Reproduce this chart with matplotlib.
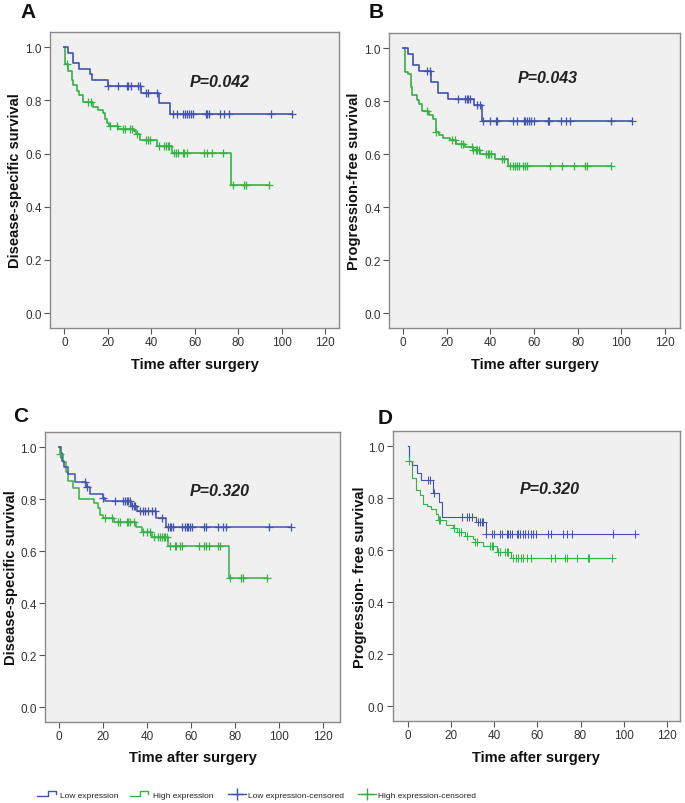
import numpy as np
import matplotlib
matplotlib.use("Agg")
import matplotlib.pyplot as plt
from matplotlib.lines import Line2D
from matplotlib.legend_handler import HandlerBase

plt.rcParams['font.family'] = ['Liberation Sans', 'DejaVu Sans']

BLUE = '#4153AE'
GREEN = '#35B146'

# ---------------- data ----------------
# Panel A: Disease-specific survival
a_low_t = [1.9, 4.1, 6.9, 11.8, 12.9, 20.0, 35.3, 43.6, 48.7]
a_low_s = [0.979, 0.939, 0.919, 0.900, 0.875, 0.854, 0.828, 0.791, 0.747]
a_low_c = [20.3, 24.9, 28.8, 29.5, 30.6, 33.8, 34.9, 37.6, 38.7, 42.5, 49.9, 52.0, 54.8,
           55.5, 56.3, 57.2, 58.2, 59.4, 65.0, 65.8, 66.7, 71.7, 73.5, 75.6, 95.0, 105.0]
a_high_t = [0.5, 1.7, 3.6, 4.2, 5.7, 6.8, 8.8, 13.4, 15.7, 18.0, 18.7, 19.8, 20.7, 24.9,
            32.1, 33.0, 34.9, 42.8, 49.4, 76.7]
a_high_s = [0.935, 0.910, 0.876, 0.856, 0.835, 0.820, 0.795, 0.775, 0.763, 0.751, 0.728,
            0.716, 0.703, 0.694, 0.685, 0.675, 0.652, 0.628, 0.601, 0.481]
a_high_c = [1.0, 11.1, 12.1, 21.0, 24.1, 27.2, 27.9, 30.2, 31.0, 33.3, 37.6, 38.7, 39.5,
            43.6, 46.0, 46.8, 47.6, 48.4, 50.3, 51.3, 52.2, 54.5, 55.3, 56.3, 64.3, 65.8,
            68.0, 72.9, 77.8, 82.7, 83.5, 94.4]

# Panel B: Progression-free survival
b_low_t = [2.3, 4.3, 7.3, 12.6, 16.1, 20.6, 32.4, 36.1]
b_low_s = [0.979, 0.937, 0.915, 0.874, 0.832, 0.809, 0.785, 0.726]
b_low_c = [10.7, 12.3, 25.2, 28.3, 29.0, 29.8, 30.6, 34.0, 35.0, 36.4, 39.6, 42.7, 43.2,
           50.5, 52.1, 55.2, 56.0, 56.7, 57.6, 58.6, 59.9, 66.2, 67.0, 72.5, 74.6, 76.5,
           95.1, 105.0]
b_high_t = [0.9, 2.2, 3.4, 4.1, 6.1, 7.3, 8.4, 11.9, 13.5, 15.0, 16.5, 18.3, 21.4, 24.2,
            28.3, 31.8, 35.2, 42.1, 48.2]
b_high_s = [0.912, 0.903, 0.853, 0.822, 0.806, 0.790, 0.765, 0.750, 0.735, 0.685, 0.672,
            0.662, 0.653, 0.639, 0.627, 0.616, 0.601, 0.582, 0.557]
b_high_c = [11.0, 15.2, 22.2, 23.7, 26.7, 27.5, 31.3, 32.0, 33.2, 33.8, 34.7, 38.1, 38.7,
            39.3, 40.1, 45.3, 46.0, 49.0, 50.5, 51.3, 52.0, 53.1, 55.1, 55.9, 56.6, 67.3,
            72.6, 78.4, 83.3, 84.1, 95.1]

# Panel C: Disease-specific survival
c_low_t = [0.6, 1.1, 2.1, 3.8, 7.1, 12.1, 14.0, 19.9, 20.8, 32.6, 35.2, 44.0, 48.5]
c_low_s = [0.977, 0.945, 0.925, 0.898, 0.866, 0.846, 0.821, 0.804, 0.791, 0.775, 0.756,
           0.726, 0.694]
c_low_c = [11.7, 12.5, 20.0, 25.3, 29.1, 29.9, 30.6, 31.4, 32.1, 33.2, 33.8, 34.4, 36.7,
           38.2, 39.0, 40.2, 42.0, 43.5, 46.5, 49.5, 50.3, 51.0, 51.8, 55.6, 57.1, 57.9,
           58.6, 59.4, 60.2, 65.8, 66.7, 72.3, 74.2, 76.0, 95.5, 105.3]
c_high_t = [0.2, 1.7, 2.9, 4.1, 6.1, 9.1, 15.9, 17.7, 18.5, 20.0, 25.0, 34.7, 37.7, 42.3,
            49.6, 77.3]
c_high_s = [0.972, 0.942, 0.906, 0.871, 0.844, 0.799, 0.784, 0.765, 0.739, 0.726, 0.713,
            0.694, 0.675, 0.653, 0.619, 0.495]
c_high_c = [0.5, 20.8, 24.1, 26.8, 27.6, 30.6, 31.4, 32.1, 34.1, 38.2, 39.7, 41.2, 43.2,
            45.0, 45.8, 46.6, 47.4, 48.2, 48.8, 50.3, 52.4, 53.2, 54.7, 55.9, 63.6, 65.8,
            66.5, 68.0, 72.0, 73.0, 77.8, 82.6, 83.6, 94.2]

# Panel D: Progression-free survival
d_low_t = [0.3, 1.9, 3.9, 5.9, 11.6, 14.2, 15.9, 31.7, 35.9]
d_low_s = [0.942, 0.927, 0.898, 0.869, 0.820, 0.788, 0.727, 0.708, 0.664]
d_low_c = [9.3, 10.1, 11.8, 24.8, 27.4, 28.3, 29.4, 32.5, 33.3, 34.1, 34.8, 36.2, 38.7,
           39.8, 42.6, 43.4, 45.7, 46.5, 47.2, 48.0, 50.3, 51.1, 51.9, 53.1, 54.2, 55.7,
           56.8, 58.1, 59.3, 65.0, 66.1, 71.7, 73.6, 75.9, 95.3, 105.3]
d_high_t = [0.3, 1.9, 3.6, 5.4, 7.0, 8.5, 10.5, 12.7, 13.9, 17.4, 20.9, 22.5, 26.3, 30.2,
            31.0, 34.8, 41.1, 47.7]
d_high_s = [0.942, 0.877, 0.832, 0.812, 0.779, 0.772, 0.760, 0.740, 0.715, 0.698, 0.685,
            0.670, 0.657, 0.644, 0.632, 0.616, 0.593, 0.570]
d_high_c = [0.5, 14.3, 14.8, 21.4, 23.5, 24.5, 27.1, 31.0, 31.8, 37.9, 38.7, 39.5, 41.8,
            42.6, 44.9, 45.7, 46.4, 48.8, 49.9, 51.1, 52.6, 53.4, 55.0, 56.8, 66.1, 68.1,
            72.8, 73.6, 78.2, 83.3, 84.1, 94.4]

panel_letters = ['A', 'B', 'C', 'D']
ylabels = ['Disease-specific survival', 'Progression-free survival',
           'Disease-specific survival', 'Progression- free survival']
pvalues = ['P=0.042', 'P=0.043', 'P=0.320', 'P=0.320']
xlabel = 'Time after surgery'
xticks = [0, 20, 40, 60, 80, 100, 120]
yticks = [0.0, 0.2, 0.4, 0.6, 0.8, 1.0]
legend_labels = ['Low expression', 'High expression',
                 'Low expression-censored', 'High expression-censored']

# ---------------- layout ----------------
W, H = 685, 804
fig = plt.figure(figsize=(W / 100, H / 100), dpi=100)
fig.patch.set_facecolor('white')

def fr(l, r, t, b):
    return [l / W, 1 - b / H, (r - l) / W, (b - t) / H]

rects = [fr(50, 339.3, 32.7, 329), fr(389.3, 680, 34, 329),
         fr(45, 340, 433, 722.7), fr(392.7, 680, 432.3, 722)]
xlims = [(-6.6, 126.6), (-6.4, 126.9), (-6.5, 127.6), (-7.2, 126.2)]
ptext_pos = [(71.7, 0.871), (66.4, 0.89), (73.0, 0.834), (65.8, 0.837)]
letter_pos = [(20, 18.5), (369, 18.5), (13, 422), (378, 424)]
ylabel_x = [-0.097, -0.098, -0.093, -0.090]
lws = [1.2, 1.2, 1.1, 0.8]
mews = [0.9, 0.9, 0.9, 0.75]

data = [
    ((a_low_t, a_low_s, a_low_c), (a_high_t, a_high_s, a_high_c)),
    ((b_low_t, b_low_s, b_low_c), (b_high_t, b_high_s, b_high_c)),
    ((c_low_t, c_low_s, c_low_c), (c_high_t, c_high_s, c_high_c)),
    ((d_low_t, d_low_s, d_low_c), (d_high_t, d_high_s, d_high_c)),
]

def km_plot(ax, t, s, c, color, lw, mew):
    t = np.asarray(t); s = np.asarray(s); c = np.asarray(c)
    end = max(c.max(), t.max())
    xs = np.concatenate([[0], t, [end]])
    ys = np.concatenate([[1.0], s, [s[-1]]])
    ax.step(xs, ys, where='post', color=color, lw=lw, zorder=3)
    idx = np.searchsorted(t, c, side='right')
    sv = np.where(idx == 0, 1.0, s[np.maximum(idx - 1, 0)])
    ax.plot(c, sv, linestyle='none', marker='+', ms=5.5, mew=mew,
            color=color, zorder=4)

for i in range(4):
    ax = fig.add_axes(rects[i])
    ax.set_facecolor('#F0F0F0')
    (lt, ls_, lc), (ht, hs, hc) = data[i]
    km_plot(ax, ht, hs, hc, GREEN, lws[i], mews[i])
    km_plot(ax, lt, ls_, lc, BLUE, lws[i], mews[i])
    ax.set_xlim(*xlims[i])
    ax.set_ylim(-0.056, 1.058)
    ax.set_xticks(xticks)
    ax.set_xticklabels([str(x) for x in xticks])
    ax.set_yticks(yticks)
    ax.set_yticklabels(['%.1f' % y for y in yticks])
    ax.tick_params(direction='out', length=4, width=0.8, color='#555555',
                   labelsize=8.5, labelcolor='#333333', pad=2)
    for sp in ax.spines.values():
        sp.set_color('#8a8a8a')
        sp.set_linewidth(1.0)
    ax.set_xlabel(xlabel, fontsize=10.5, fontweight='bold', color='#111111', labelpad=6)
    ax.set_ylabel(ylabels[i], fontsize=10.5, fontweight='bold', color='#111111')
    ax.yaxis.set_label_coords(ylabel_x[i], 0.5)
    ax.text(ptext_pos[i][0], ptext_pos[i][1], pvalues[i], fontsize=11.5,
            fontweight='bold', fontstyle='italic', color='#222222',
            ha='center', va='center')
    fig.text(letter_pos[i][0] / W, 1 - letter_pos[i][1] / H, panel_letters[i],
             fontsize=15, fontweight='bold', color='#111111',
             ha='left', va='baseline')

# ---------------- legend ----------------
class StepHandler(HandlerBase):
    def create_artists(self, legend, orig_handle, xdescent, ydescent, width, height,
                       fontsize, trans):
        xs = np.array([0, 0.55, 0.55, 0.97, 0.97]) * width - xdescent
        ys = np.array([0.1, 0.1, 0.95, 0.95, 0.5]) * height - ydescent
        ln = Line2D(xs, ys, color=orig_handle.get_color(), lw=orig_handle.get_linewidth())
        ln.set_transform(trans)
        return [ln]

class CensorHandler(HandlerBase):
    def create_artists(self, legend, orig_handle, xdescent, ydescent, width, height,
                       fontsize, trans):
        x0 = 0.2 * width - xdescent
        x1 = width + 2 - xdescent
        yc = 0.5 * height - ydescent
        ln = Line2D([x0, x1], [yc, yc], color=orig_handle.get_color(),
                    lw=orig_handle.get_linewidth())
        mk = Line2D([(x0 + x1) / 2], [yc], color=orig_handle.get_color(),
                    marker='+', ms=8, mew=1.0, linestyle='none')
        ln.set_transform(trans)
        mk.set_transform(trans)
        return [ln, mk]

h1 = Line2D([], [], color=BLUE, lw=1.0)
h2 = Line2D([], [], color=GREEN, lw=1.0)
h3 = Line2D([], [], color=BLUE, lw=1.0)
h4 = Line2D([], [], color=GREEN, lw=1.0)
leg = fig.legend([h1, h2, h3, h4], legend_labels,
                 handler_map={h1: StepHandler(), h2: StepHandler(),
                              h3: CensorHandler(), h4: CensorHandler()},
                 loc='center left', bbox_to_anchor=(37 / W, 1 - 795.7 / H),
                 ncol=4, frameon=False, borderpad=0, borderaxespad=0,
                 handlelength=2.3, handletextpad=0.5, columnspacing=1.3,
                 prop={'family': ['Liberation Sans', 'DejaVu Sans'], 'size': 6.0})
for txt in leg.get_texts():
    txt.set_color('#222222')

fig.savefig('out.png', dpi=100, facecolor='white')
